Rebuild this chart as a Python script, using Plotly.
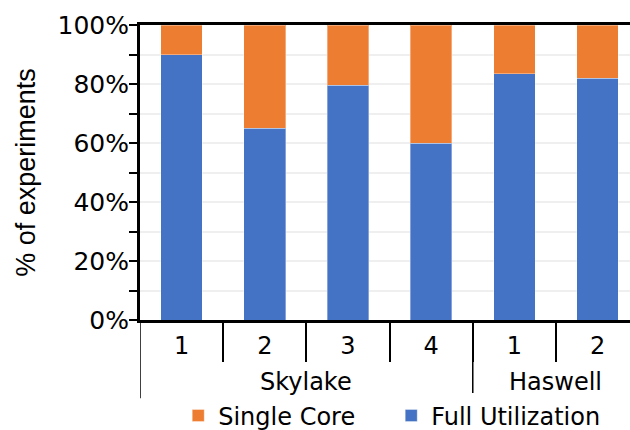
import plotly.graph_objects as go

# ---- data ----
groups = ["Skylake", "Skylake", "Skylake", "Skylake", "Haswell", "Haswell"]
configs = ["1", "2", "3", "4", "1", "2"]
full_utilization = [0.90, 0.65, 0.795, 0.60, 0.835, 0.82]
single_core = [0.10, 0.35, 0.205, 0.40, 0.165, 0.18]
y_ticks = [0, 0.2, 0.4, 0.6, 0.8, 1.0]

BLUE = "#4472C4"
ORANGE = "#ED7D31"
FONT = "DejaVu Sans"

xpos = list(range(len(configs)))

fig = go.Figure()
fig.add_trace(go.Bar(
    x=xpos, y=full_utilization, name="Full Utilization",
    marker=dict(color=BLUE, line=dict(color="rgba(255,255,255,0.35)", width=1)),
))
fig.add_trace(go.Bar(
    x=xpos, y=single_core, name="Single Core",
    marker=dict(color=ORANGE, line=dict(color="rgba(255,255,255,0.35)", width=1)),
))

# group labels and dividers derived from the groups list
group_names = []
for g in groups:
    if g not in group_names:
        group_names.append(g)
boundaries = []
for g in group_names:
    idx = [i for i, gg in enumerate(groups) if gg == g]
    fig.add_annotation(
        x=(idx[0] + idx[-1]) / 2, y=-0.21, xref="x", yref="paper",
        text=g, showarrow=False, yanchor="middle",
        font=dict(family=FONT, size=24, color="black"),
    )
    boundaries.append(idx[0] - 0.5)
for b in boundaries:
    fig.add_shape(
        type="line", xref="x", yref="paper", x0=b, x1=b, y0=0, y1=-0.265,
        line=dict(color="black", width=1.5),
    )

inner_bounds = [i + 0.5 for i in xpos[:-1]]

fig.update_layout(
    width=630, height=430,
    margin=dict(l=140, r=0, t=25, b=110, autoexpand=False),
    paper_bgcolor="white", plot_bgcolor="white",
    barmode="stack", bargap=0.5,
    showlegend=True,
    legend=dict(
        orientation="h", traceorder="reversed",
        x=0.078, xanchor="left", y=-0.325, yanchor="middle",
        font=dict(family=FONT, size=24, color="black"),
        entrywidth=168,
    ),
    xaxis=dict(
        range=[-0.5, 5.39], automargin=False,
        tickmode="array", tickvals=xpos, ticktext=configs,
        ticks="", ticklabelstandoff=2,
        tickfont=dict(family=FONT, size=24, color="black"),
        showline=True, linecolor="black", linewidth=3, mirror=True,
        showgrid=False, zeroline=False,
        minor=dict(tickmode="array", tickvals=inner_bounds, ticks="outside",
                   ticklen=39, tickwidth=2, tickcolor="black", showgrid=False),
    ),
    yaxis=dict(
        range=[0, 1], automargin=False,
        tickmode="array", tickvals=y_ticks, tickformat=".0%",
        ticks="outside", ticklen=8, tickwidth=2, tickcolor="black",
        ticklabelstandoff=-5,
        tickfont=dict(family=FONT, size=25, color="black"),
        showline=True, linecolor="black", linewidth=3,
        showgrid=True, gridcolor="#efefef", gridwidth=2,
        zeroline=False,
        minor=dict(dtick=0.1, ticks="outside", ticklen=8, tickwidth=2,
                   tickcolor="black", showgrid=True, gridcolor="#efefef", gridwidth=2),
        title=dict(text="% of experiments", standoff=15,
                   font=dict(family="Liberation Sans", size=27, color="black")),
    ),
)

fig.write_html(
    "out.html",
    config={"displayModeBar": False},
    post_script="document.body.style.margin='0';document.body.style.overflow='hidden';",
)
